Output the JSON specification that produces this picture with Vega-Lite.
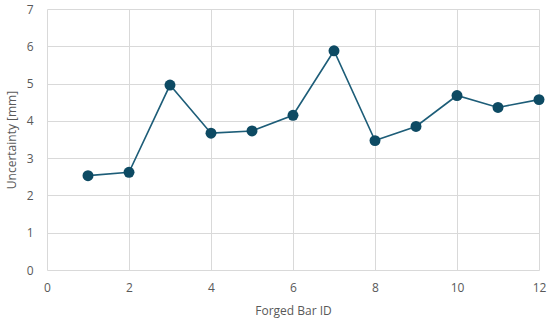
{
  "$schema": "https://vega.github.io/schema/vega-lite/v6.json",
  "autosize": "none",
  "width": 492,
  "height": 261,
  "padding": {"left": 47, "top": 9, "right": 11, "bottom": 52},
  "background": "white",
  "config": {
    "view": {"stroke": null},
    "font": "Open Sans",
    "axis": {
      "labelFont": "Open Sans",
      "titleFont": "Open Sans",
      "labelColor": "#595959",
      "titleColor": "#595959",
      "labelFontSize": 12,
      "titleFontSize": 12,
      "titleFontWeight": "normal",
      "gridColor": "#d9d9d9",
      "gridWidth": 1,
      "ticks": false,
      "domain": false,
      "labelFlush": false
    }
  },
  "data": {
    "values": [
      {"id": 1, "u": 2.53},
      {"id": 2, "u": 2.62},
      {"id": 3, "u": 4.96},
      {"id": 4, "u": 3.67},
      {"id": 5, "u": 3.73},
      {"id": 6, "u": 4.15},
      {"id": 7, "u": 5.88},
      {"id": 8, "u": 3.47},
      {"id": 9, "u": 3.85},
      {"id": 10, "u": 4.68},
      {"id": 11, "u": 4.36},
      {"id": 12, "u": 4.57}
    ]
  },
  "encoding": {
    "x": {
      "field": "id", "type": "quantitative",
      "scale": {"domain": [0, 12], "nice": false, "zero": true},
      "axis": {"values": [0, 2, 4, 6, 8, 10, 12], "title": "Forged Bar ID", "labelPadding": 12, "titlePadding": 12}
    },
    "y": {
      "field": "u", "type": "quantitative",
      "scale": {"domain": [0, 7], "nice": false},
      "axis": {"values": [0, 1, 2, 3, 4, 5, 6, 7], "title": "Uncertainty [mm]", "labelPadding": 14, "titlePadding": 8}
    }
  },
  "layer": [
    {"mark": {"type": "line", "color": "#1d5d78", "strokeWidth": 1.6}},
    {"mark": {"type": "point", "filled": true, "size": 120, "color": "#0d4a63", "opacity": 1}}
  ]
}
